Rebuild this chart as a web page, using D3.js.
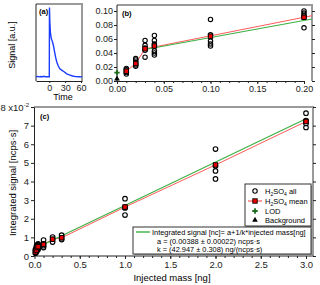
<!DOCTYPE html>
<html>
<head>
<meta charset="utf-8">
<script src="https://cdn.jsdelivr.net/npm/d3@7"></script>
<style>
body { margin: 0; background: #fff; }
svg { font-family: "Liberation Sans", Arial, sans-serif; }
</style>
</head>
<body>
<svg id="chart" width="320" height="285"></svg>
<script>
// (a) signal trace
var traceTime = [-25, -22, -19, -16, -13, -10, -7, -4, -1, 0, 0.3, 1, 2, 3, 4, 6, 8, 10, 12, 14, 17, 20, 24, 28, 33, 38, 44, 50, 56, 62];
var traceSignal = [0.03, 0.035, 0.028, 0.033, 0.03, 0.036, 0.029, 0.032, 0.03, 0.03, 1.0, 0.8, 0.66, 0.6, 0.56, 0.52, 0.46, 0.38, 0.3, 0.24, 0.18, 0.14, 0.12, 0.1, 0.07, 0.055, 0.04, 0.032, 0.03, 0.028];
var ticksA = [0, 30, 60];

// (b) low mass zoom
var massB = [0.01, 0.02, 0.03, 0.04, 0.10, 0.20];
var allB = [
  [0.010, 0.012, 0.014, 0.016, 0.018],
  [0.021, 0.023, 0.025, 0.027, 0.030, 0.032],
  [0.034, 0.044, 0.047, 0.051, 0.058],
  [0.037, 0.040, 0.043, 0.050, 0.053, 0.058, 0.065],
  [0.050, 0.053, 0.057, 0.066, 0.088],
  [0.076, 0.091, 0.094, 0.097, 0.100]
];
var meanB = [0.014, 0.025, 0.046, 0.050, 0.064, 0.091];
var redFitB = [[0.03, 0.046], [0.2086, 0.0933]];
var greenFitB = [[0.03, 0.045], [0.2086, 0.0886]];
var lodB = [0, 0.012];
var bgB = [0, 0.003];
var ticksBx = [0, 0.05, 0.10, 0.15, 0.20];
var ticksBy = [0, 0.02, 0.04, 0.06, 0.08, 0.10];

// (c) full calibration
var massC = [0.01, 0.02, 0.03, 0.04, 0.1, 0.2, 0.3, 1.0, 2.0, 3.0];
var allC = [
  [0.0015, 0.0025, 0.0035],
  [0.002, 0.003, 0.004, 0.005],
  [0.003, 0.0045, 0.0055, 0.006],
  [0.0035, 0.005, 0.006, 0.0065],
  [0.0045, 0.0055, 0.0065, 0.0086],
  [0.0075, 0.009, 0.0102],
  [0.0088, 0.0098, 0.0112],
  [0.022, 0.0258, 0.0262, 0.0308],
  [0.0414, 0.0457, 0.0484, 0.0574],
  [0.0690, 0.0712, 0.0727, 0.0767]
];
var meanC = [0.0022, 0.0032, 0.0045, 0.005, 0.0062, 0.009, 0.0098, 0.0263, 0.0489, 0.0722];
var greenFitC = [[0.03, 0.0046], [3.0, 0.0737]];
var ticksCx = [0, 0.5, 1.0, 1.5, 2.0, 2.5, 3.0];
var ticksCy = [0, 0.01, 0.02, 0.03, 0.04, 0.05, 0.06, 0.07, 0.08];

var red = "#ff5a5a", green = "#3cb043", gray = "#9a9a9a";

var svg = d3.select("#chart");

function border(x0, x1, y0, y1) {
  svg.append("line").attr("x1", x0).attr("x2", x1 + 1).attr("y1", y0).attr("y2", y0)
    .attr("stroke", gray).attr("stroke-width", 2);
  svg.append("line").attr("x1", x1).attr("x2", x1).attr("y1", y0).attr("y2", y1)
    .attr("stroke", gray).attr("stroke-width", 2);
}

function styleAxis(g, size) {
  g.selectAll("text").attr("font-size", size || 9).attr("fill", "#222");
  g.selectAll("line, path").attr("stroke", "#222");
}

function h2so4(t, rest) {
  t.append("tspan").text("H");
  t.append("tspan").attr("font-size", 5).attr("dy", 2).text("2");
  t.append("tspan").attr("dy", -2).text("SO");
  t.append("tspan").attr("font-size", 5).attr("dy", 2).text("4");
  t.append("tspan").attr("dy", -2).text(rest);
}

// ---------- panel (a)
var xa = d3.scaleLinear().domain([-25.2, 61.9]).range([36, 82]);
var ya = d3.scaleLinear().domain([-0.03, 1.05]).range([81, 4]);

border(36, 82, 4, 81);
svg.append("line").attr("x1", 36).attr("x2", 36).attr("y1", 4).attr("y2", 81).attr("stroke", "#222");
var axA = svg.append("g").attr("transform", "translate(0,81)")
  .call(d3.axisBottom(xa).tickValues(ticksA).tickSize(2).tickSizeOuter(0).tickPadding(2));
styleAxis(axA);

svg.append("path")
  .datum(traceTime.map(function(t, i) { return [t, traceSignal[i]]; }))
  .attr("fill", "none").attr("stroke", "#1a3cff").attr("stroke-width", 1.4)
  .attr("d", d3.line().x(function(d) { return xa(d[0]); }).y(function(d) { return ya(d[1]); }));

svg.append("text").attr("x", 39).attr("y", 14).attr("font-size", 7.5).attr("font-weight", "bold").text("(a)");
svg.append("text").attr("x", 63).attr("y", 100).attr("text-anchor", "middle").attr("font-size", 9).text("Time");
svg.append("text").attr("transform", "translate(15,45) rotate(-90)").attr("text-anchor", "middle")
  .attr("font-size", 9).text("Signal [a.u.]");

// ---------- panel (b)
var xb = d3.scaleLinear().domain([0, 0.2]).range([117, 304]);
var yb = d3.scaleLinear().domain([0, 0.1]).range([81, 11]);

border(117, 312, 5, 81);
var axBx = svg.append("g").attr("transform", "translate(0,81)")
  .call(d3.axisBottom(xb).tickValues(ticksBx).tickFormat(d3.format(".2f")).tickSize(3).tickSizeOuter(0).tickPadding(2));
styleAxis(axBx);
svg.append("g").attr("transform", "translate(0,81)")
  .call(d3.axisBottom(xb).tickValues(d3.range(0.01, 0.205, 0.01)).tickFormat("").tickSize(2).tickSizeOuter(0))
  .call(function(g) { g.select(".domain").remove(); g.selectAll("line").attr("stroke", "#222"); });
var axBy = svg.append("g").attr("transform", "translate(117,0)")
  .call(d3.axisLeft(yb).tickValues(ticksBy).tickFormat(d3.format(".2f")).tickSize(3).tickSizeOuter(0).tickPadding(1));
axBy.select(".domain").attr("d", "M0,81V5");
styleAxis(axBy);
var axBr = svg.append("g").attr("transform", "translate(312,0)")
  .call(d3.axisRight(yb).tickValues(ticksBy).tickFormat("").tickSize(3).tickSizeOuter(0));
axBr.select(".domain").remove();
styleAxis(axBr);

var lineB = d3.line().x(function(d) { return xb(d[0]); }).y(function(d) { return yb(d[1]); });
svg.append("path").datum(massB.slice(0, 3).map(function(m, i) { return [m, meanB[i]]; }))
  .attr("fill", "none").attr("stroke", red).attr("stroke-width", 1).attr("d", lineB);
svg.append("path").datum(redFitB).attr("fill", "none").attr("stroke", red).attr("stroke-width", 1).attr("d", lineB);
svg.append("path").datum(greenFitB).attr("fill", "none").attr("stroke", green).attr("stroke-width", 1.2).attr("d", lineB);

massB.forEach(function(m, i) {
  svg.selectAll(null).data(allB[i]).enter().append("circle")
    .attr("cx", xb(m)).attr("cy", function(d) { return yb(d); }).attr("r", 2.2)
    .attr("fill", "none").attr("stroke", "#000").attr("stroke-width", 1.1);
});
svg.selectAll(null).data(massB).enter().append("rect")
  .attr("x", function(d) { return xb(d) - 2.2; }).attr("y", function(d, i) { return yb(meanB[i]) - 2.2; })
  .attr("width", 4.4).attr("height", 4.4).attr("fill", "#e00").attr("stroke", "#000").attr("stroke-width", 0.9);
svg.append("path").attr("d", d3.symbol(d3.symbolTriangle, 14)())
  .attr("transform", "translate(" + xb(bgB[0]) + "," + yb(bgB[1]) + ")").attr("fill", "#000");
svg.append("path").attr("d", d3.symbol(d3.symbolCross, 16)())
  .attr("transform", "translate(" + xb(lodB[0]) + "," + yb(lodB[1]) + ")").attr("fill", "#1d6b1d");

svg.append("text").attr("x", 122).attr("y", 16).attr("font-size", 7.5).attr("font-weight", "bold").text("(b)");

// ---------- panel (c)
var xc = d3.scaleLinear().domain([0, 3]).range([34.5, 306]);
var yc = d3.scaleLinear().domain([0, 0.08]).range([256, 107]);

border(34, 313, 107, 256);
var axCx = svg.append("g").attr("transform", "translate(0,256)")
  .call(d3.axisBottom(xc).tickValues(ticksCx).tickFormat(d3.format(".1f")).tickSize(3).tickSizeOuter(0).tickPadding(2));
axCx.select(".domain").attr("d", "M34,0H313");
styleAxis(axCx, 9.5);
svg.append("g").attr("transform", "translate(0,256)")
  .call(d3.axisBottom(xc).tickValues(d3.range(0.1, 3.05, 0.1)).tickFormat("").tickSize(2).tickSizeOuter(0))
  .call(function(g) { g.select(".domain").remove(); g.selectAll("line").attr("stroke", "#222"); });
var axCy = svg.append("g").attr("transform", "translate(34,0)")
  .call(d3.axisLeft(yc).tickValues(ticksCy).tickFormat(function(d) { return Math.round(d * 100); })
    .tickSize(3).tickSizeOuter(0).tickPadding(2));
styleAxis(axCy, 9.5);
axCy.selectAll(".tick text").filter(function(d) { return d === 0.08; })
  .text(null)
  .call(function(t) {
    t.append("tspan").text("8 x10");
    t.append("tspan").attr("font-size", 6).attr("dy", -4).text("-2");
  });
var axCr = svg.append("g").attr("transform", "translate(313,0)")
  .call(d3.axisRight(yc).tickValues(ticksCy).tickFormat("").tickSize(3).tickSizeOuter(0));
axCr.select(".domain").remove();
styleAxis(axCr);

var lineC = d3.line().x(function(d) { return xc(d[0]); }).y(function(d) { return yc(d[1]); });
svg.append("path").datum(massC.map(function(m, i) { return [m, meanC[i]]; }))
  .attr("fill", "none").attr("stroke", red).attr("stroke-width", 1).attr("d", lineC);
svg.append("path").datum(greenFitC).attr("fill", "none").attr("stroke", green).attr("stroke-width", 1.2).attr("d", lineC);

massC.forEach(function(m, i) {
  svg.selectAll(null).data(allC[i]).enter().append("circle")
    .attr("cx", xc(m)).attr("cy", function(d) { return yc(d); }).attr("r", 2.3)
    .attr("fill", "none").attr("stroke", "#000").attr("stroke-width", 1.1);
});
svg.selectAll(null).data(massC).enter().append("rect")
  .attr("x", function(d) { return xc(d) - 2.2; }).attr("y", function(d, i) { return yc(meanC[i]) - 2.2; })
  .attr("width", 4.4).attr("height", 4.4).attr("fill", "#e00").attr("stroke", "#000").attr("stroke-width", 0.9);

svg.append("text").attr("x", 40).attr("y", 119).attr("font-size", 7.5).attr("font-weight", "bold").text("(c)");
svg.append("text").attr("transform", "translate(16,183) rotate(-90)").attr("text-anchor", "middle")
  .attr("font-size", 9.5).text("Integrated signal [ncps\u00b7s]");
svg.append("text").attr("x", 172).attr("y", 281).attr("text-anchor", "middle")
  .attr("font-size", 9.5).text("Injected mass [ng]");

// ---------- legends
function legendBox(x, y, w, h) {
  svg.append("rect").attr("x", x + 1.5).attr("y", y + 1.5).attr("width", w).attr("height", h).attr("fill", gray);
  svg.append("rect").attr("x", x).attr("y", y).attr("width", w).attr("height", h)
    .attr("fill", "#fff").attr("stroke", "#333").attr("stroke-width", 1);
}
legendBox(245, 184, 66, 42);
var lx = 255, tx = 265;
svg.append("circle").attr("cx", lx).attr("cy", 191).attr("r", 2.2).attr("fill", "none").attr("stroke", "#000").attr("stroke-width", 1.1);
svg.append("text").attr("x", tx).attr("y", 193.5).attr("font-size", 7.5).call(h2so4, " all");
svg.append("line").attr("x1", 248).attr("x2", 262).attr("y1", 201).attr("y2", 201).attr("stroke", red).attr("stroke-width", 1.2);
svg.append("rect").attr("x", lx - 2.2).attr("y", 198.8).attr("width", 4.4).attr("height", 4.4)
  .attr("fill", "#e00").attr("stroke", "#000").attr("stroke-width", 0.9);
svg.append("text").attr("x", tx).attr("y", 203.5).attr("font-size", 7.5).call(h2so4, " mean");
svg.append("path").attr("d", d3.symbol(d3.symbolCross, 16)()).attr("transform", "translate(" + lx + ",211)").attr("fill", "#1d6b1d");
svg.append("text").attr("x", tx).attr("y", 213.5).attr("font-size", 7.5).text("LOD");
svg.append("path").attr("d", d3.symbol(d3.symbolTriangle, 14)()).attr("transform", "translate(" + lx + ",220)").attr("fill", "#000");
svg.append("text").attr("x", tx).attr("y", 222.5).attr("font-size", 7.5).text("Background");

legendBox(133, 227, 178, 27);
svg.append("line").attr("x1", 136).attr("x2", 150).attr("y1", 232).attr("y2", 232).attr("stroke", green).attr("stroke-width", 1.4);
svg.append("text").attr("x", 152).attr("y", 235).attr("font-size", 7.4).text("Integrated signal [nc]= a+1/k*injected mass[ng]");
svg.append("text").attr("x", 157).attr("y", 243.5).attr("font-size", 7.4).text("a = (0.00388 \u00b1 0.00022) ncps\u00b7s");
svg.append("text").attr("x", 157).attr("y", 252).attr("font-size", 7.4).text("k = (42.947 \u00b1 0.308) ng/(ncps\u00b7s)");
</script>
</body>
</html>
